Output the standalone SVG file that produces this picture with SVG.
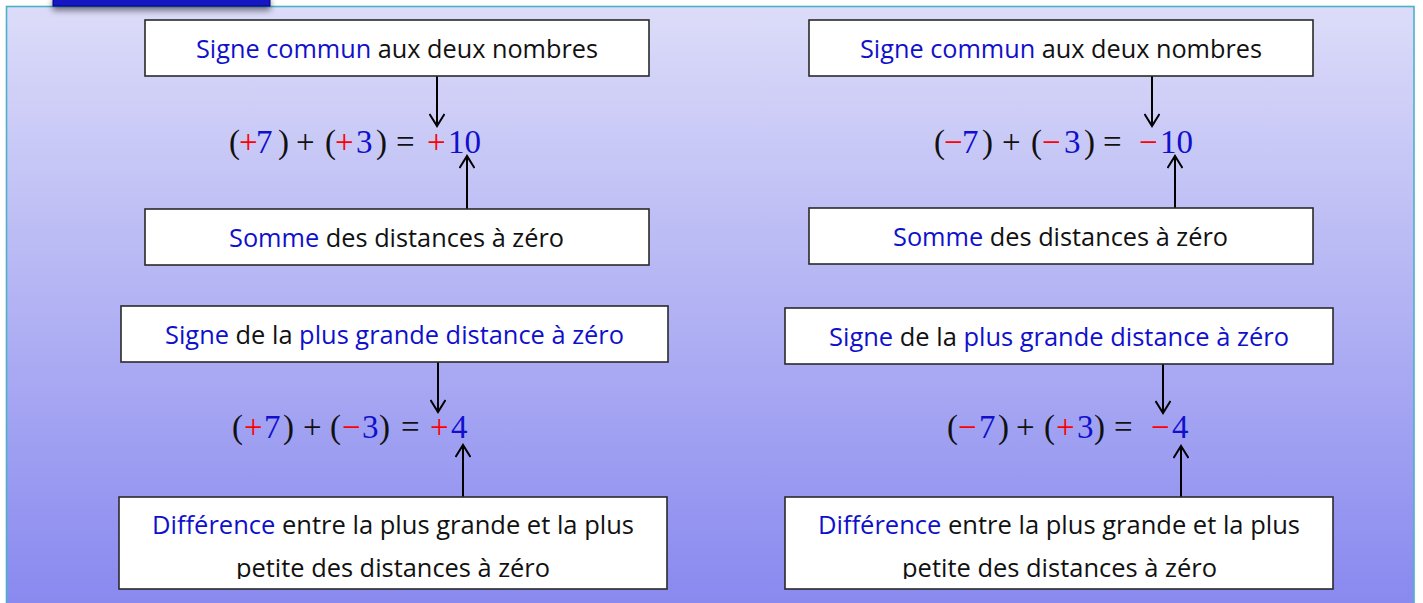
<svg xmlns="http://www.w3.org/2000/svg" width="1423" height="603" viewBox="0 0 1423 603">
<defs>
<linearGradient id="bg" x1="0" y1="0" x2="0" y2="1">
<stop offset="0" stop-color="#dcdcf9"/>
<stop offset="1" stop-color="#8787ef"/>
</linearGradient>
<filter id="sh" x="-10%" y="-50%" width="120%" height="300%">
<feGaussianBlur in="SourceAlpha" stdDeviation="3"/>
<feOffset dy="4"/>
<feComponentTransfer><feFuncA type="linear" slope="0.5"/></feComponentTransfer>
<feMerge><feMergeNode/><feMergeNode in="SourceGraphic"/></feMerge>
</filter>
<marker id="ah" markerWidth="22" markerHeight="16" refX="13" refY="8" orient="auto" markerUnits="userSpaceOnUse">
<path d="M1,0.5 L13,8 L1,15.5" fill="none" stroke="#000" stroke-width="2"/>
</marker>
<clipPath id="clipL"><rect x="119" y="497" width="548" height="82"/></clipPath>
<clipPath id="clipR"><rect x="785" y="497" width="548" height="82"/></clipPath>
</defs>
<style>
.box{fill:#fff;stroke:#2a2a2a;stroke-width:1.6}
.lbl{font-family:"Open Sans","Noto Sans",sans-serif;font-size:25px;fill:#111}
.b{fill:#1010cc}
.r{fill:#ff0000}
.m{font-family:"Liberation Serif","DejaVu Serif",serif;font-size:33px;fill:#111}
.mb{fill:#1010cc}
.arr{stroke:#000;stroke-width:2;fill:none;marker-end:url(#ah)}
</style>

<rect x="6.5" y="6.5" width="1407.5" height="610" fill="url(#bg)" stroke="#4ab2c8" stroke-width="1.6"/>
<g id="tab" filter="url(#sh)">
<rect x="53" y="-4" width="217" height="10" fill="#1212c2" stroke="#000088" stroke-width="1"/>
</g>

<g id="connectors">
<line class="arr" x1="437" y1="76" x2="437" y2="126"/>
<line class="arr" x1="467" y1="209" x2="467" y2="156"/>
<line class="arr" x1="1152" y1="76" x2="1152" y2="126"/>
<line class="arr" x1="1175" y1="208" x2="1175" y2="156"/>
<line class="arr" x1="438" y1="362" x2="438" y2="412"/>
<line class="arr" x1="463" y1="497" x2="463" y2="445"/>
<line class="arr" x1="1163" y1="364" x2="1163" y2="413"/>
<line class="arr" x1="1181" y1="497" x2="1181" y2="446"/>
</g>

<g id="n1">
<rect class="box" x="145" y="20" width="504" height="56"/>
<text class="lbl" x="196" y="58" textLength="402" lengthAdjust="spacingAndGlyphs"><tspan class="b">Signe commun</tspan> aux deux nombres</text>
</g>
<g id="n2">
<rect class="box" x="809" y="20" width="504" height="56"/>
<text class="lbl" x="860" y="58" textLength="402" lengthAdjust="spacingAndGlyphs"><tspan class="b">Signe commun</tspan> aux deux nombres</text>
</g>
<g id="n3">
<rect class="box" x="145" y="209" width="504" height="56"/>
<text class="lbl" x="229" y="247" textLength="335" lengthAdjust="spacingAndGlyphs"><tspan class="b">Somme</tspan> des distances à zéro</text>
</g>
<g id="n4">
<rect class="box" x="809" y="208" width="504" height="56"/>
<text class="lbl" x="893" y="246" textLength="335" lengthAdjust="spacingAndGlyphs"><tspan class="b">Somme</tspan> des distances à zéro</text>
</g>
<g id="n5">
<rect class="box" x="121" y="306" width="547" height="56"/>
<text class="lbl" x="165" y="344" textLength="459" lengthAdjust="spacingAndGlyphs"><tspan class="b">Signe</tspan> de la <tspan class="b">plus grande distance à zéro</tspan></text>
</g>
<g id="n6">
<rect class="box" x="785" y="308" width="548" height="56"/>
<text class="lbl" x="829" y="346" textLength="460" lengthAdjust="spacingAndGlyphs"><tspan class="b">Signe</tspan> de la <tspan class="b">plus grande distance à zéro</tspan></text>
</g>
<g id="n7">
<rect class="box" x="119" y="497" width="548" height="92"/>
<text class="lbl" x="152" y="534" textLength="482" lengthAdjust="spacingAndGlyphs"><tspan class="b">Différence</tspan> entre la plus grande et la plus</text>
<text class="lbl" x="236" y="577" textLength="314" lengthAdjust="spacingAndGlyphs" clip-path="url(#clipL)">petite des distances à zéro</text>
</g>
<g id="n8">
<rect class="box" x="785" y="497" width="548" height="92"/>
<text class="lbl" x="818" y="534" textLength="482" lengthAdjust="spacingAndGlyphs"><tspan class="b">Différence</tspan> entre la plus grande et la plus</text>
<text class="lbl" x="902" y="577" textLength="315" lengthAdjust="spacingAndGlyphs" clip-path="url(#clipR)">petite des distances à zéro</text>
</g>

<g id="eq1">
<text class="m" y="153"><tspan x="229">(</tspan><tspan x="239" class="r">+</tspan><tspan x="256" class="mb">7</tspan><tspan x="278">)</tspan><tspan x="296">+</tspan><tspan x="325">(</tspan><tspan x="335" class="r">+</tspan><tspan x="356" class="mb">3</tspan><tspan x="376">)</tspan><tspan x="396">=</tspan><tspan x="427" class="r">+</tspan><tspan x="448" class="mb">10</tspan></text>
</g>
<g id="eq2">
<text class="m" y="153"><tspan x="934">(</tspan><tspan x="944" class="r">−</tspan><tspan x="962" class="mb">7</tspan><tspan x="982">)</tspan><tspan x="1002">+</tspan><tspan x="1031">(</tspan><tspan x="1042" class="r">−</tspan><tspan x="1064" class="mb">3</tspan><tspan x="1084">)</tspan><tspan x="1103">=</tspan><tspan x="1139" class="r">−</tspan><tspan x="1160" class="mb">10</tspan></text>
</g>
<g id="eq3">
<text class="m" y="438"><tspan x="232">(</tspan><tspan x="244" class="r">+</tspan><tspan x="264" class="mb">7</tspan><tspan x="283">)</tspan><tspan x="303">+</tspan><tspan x="330">(</tspan><tspan x="342" class="r">−</tspan><tspan x="362" class="mb">3</tspan><tspan x="379">)</tspan><tspan x="401">=</tspan><tspan x="430" class="r">+</tspan><tspan x="451" class="mb">4</tspan></text>
</g>
<g id="eq4">
<text class="m" y="438"><tspan x="947">(</tspan><tspan x="958" class="r">−</tspan><tspan x="979" class="mb">7</tspan><tspan x="998">)</tspan><tspan x="1016">+</tspan><tspan x="1044">(</tspan><tspan x="1056" class="r">+</tspan><tspan x="1077" class="mb">3</tspan><tspan x="1094">)</tspan><tspan x="1114">=</tspan><tspan x="1151" class="r">−</tspan><tspan x="1172" class="mb">4</tspan></text>
</g>
</svg>
